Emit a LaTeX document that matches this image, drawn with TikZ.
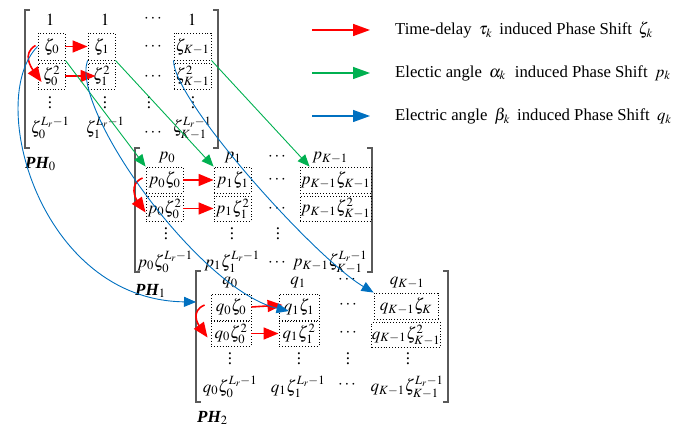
\documentclass[tikz,border=0pt]{standalone}
\usepackage{mathptmx}
\usepackage{fontspec}
\setmainfont{Liberation Serif}
\usetikzlibrary{arrows.meta,calc}
\definecolor{ared}{RGB}{255,0,0}
\definecolor{agreen}{RGB}{0,176,80}
\definecolor{ablue}{RGB}{0,112,192}
\definecolor{brk}{RGB}{90,90,90}
\newcommand{\myvdots}{\vbox{\baselineskip5pt \lineskiplimit0pt \hbox{.}\hbox{.}\hbox{.}}}
\begin{document}
\begin{tikzpicture}[x=1pt,y=-1pt,
  every node/.style={font=\fontsize{17}{20}\selectfont, inner sep=0pt},
  dbox/.style={draw, dotted, line width=0.9pt},
  bracket/.style={draw=brk, line width=1.2pt},
  redarr/.style={draw=ared, line width=1.6pt, -{Triangle[length=15pt,width=12pt]}},
  grnarr/.style={draw=agreen, line width=0.9pt, -{Triangle[length=12pt,width=10pt]}},
  bluarr/.style={draw=ablue, line width=0.9pt, -{Triangle[length=12pt,width=10pt]}},
  leg/.style={anchor=west, font=\fontsize{16.7}{20}\selectfont},
]
\useasboundingbox (0,0) rectangle (675,427);
% ---------- PH0 ----------
\draw[bracket] (30,10) -- (25,10) -- (25,148) -- (30,148);
\draw[bracket] (213,10) -- (218,10) -- (218,148) -- (213,148);
\node (a0) at (50,20) {$1$};
\node (a1) at (105,20) {$1$};
\node (a2) at (153,19) {$\cdots$};
\node (a3) at (192,20) {$1$};
\node[dbox, minimum width=27, minimum height=27] (b00) at (51.5,46.5) {$\zeta_0$};
\node[dbox, minimum width=27, minimum height=27] (b01) at (101.5,46.5) {$\zeta_1$};
\node (b02) at (153,47) {$\cdots$};
\node[dbox, minimum width=37, minimum height=27] (b03) at (192.5,46.5) {$\zeta_{K-1}$};
\node[dbox, minimum width=27, minimum height=26] (b10) at (51.5,76) {$\zeta_0^2$};
\node[dbox, minimum width=27, minimum height=26] (b11) at (101.5,76) {$\zeta_1^2$};
\node (b12) at (153,77) {$\cdots$};
\node[dbox, minimum width=37, minimum height=26] (b13) at (192.5,76) {$\zeta_{K-1}^2$};
\node (e0) at (50,103) {\myvdots};
\node (e1) at (105,103) {\myvdots};
\node (e2) at (149,103) {\myvdots};
\node (e3) at (193,103) {\myvdots};
\node (f0) at (50,128) {$\zeta_0^{L_r-1}$};
\node (f1) at (105,128) {$\zeta_1^{L_r-1}$};
\node (f2) at (153,133) {$\cdots$};
\node (f3) at (192,128) {$\zeta_{K-1}^{L_r-1}$};
\node[anchor=west] (ph0) at (25,164) {{\bfseries\itshape PH}$_0$};
% ---------- PH1 ----------
\draw[bracket] (140,148) -- (135,148) -- (135,272) -- (140,272);
\draw[bracket] (367,148) -- (372,148) -- (372,272) -- (367,272);
\node (p0) at (167,158) {$p_0$};
\node (p1) at (233,158) {$p_1$};
\node (p2) at (277,157) {$\cdots$};
\node (p3) at (330,158) {$p_{K-1}$};
\node[dbox, minimum width=37, minimum height=26] (c00) at (164.5,180) {$p_0\zeta_0$};
\node[dbox, minimum width=37, minimum height=26] (c01) at (232.5,180) {$p_1\zeta_1$};
\node (c02) at (277,180) {$\cdots$};
\node[dbox, minimum width=71, minimum height=26] (c03) at (335.5,180) {$p_{K-1}\zeta_{K-1}$};
\node[dbox, minimum width=37, minimum height=25] (c10) at (164.5,208.5) {$p_0\zeta_0^2$};
\node[dbox, minimum width=37, minimum height=25] (c11) at (232.5,208.5) {$p_1\zeta_1^2$};
\node (c12) at (277,209) {$\cdots$};
\node[dbox, minimum width=71, minimum height=25] (c13) at (335.5,208.5) {$p_{K-1}\zeta_{K-1}^2$};
\node (k0) at (166,234) {\myvdots};
\node (k1) at (232,234) {\myvdots};
\node (k2) at (278,234) {\myvdots};
\node (g0) at (165,262) {$p_0\zeta_0^{L_r-1}$};
\node (g1) at (232,262) {$p_1\zeta_1^{L_r-1}$};
\node (g2) at (277,263) {$\cdots$};
\node (g3) at (330,262) {$p_{K-1}\zeta_{K-1}^{L_r-1}$};
\node[anchor=west] (ph1) at (135,291) {{\bfseries\itshape PH}$_1$};
% ---------- PH2 ----------
\draw[bracket] (201,271) -- (196,271) -- (196,402) -- (201,402);
\draw[bracket] (443,271) -- (448,271) -- (448,402) -- (443,402);
\node (q0) at (230,283) {$q_0$};
\node (q1) at (298,283) {$q_1$};
\node (q2) at (347,280) {$\cdots$};
\node (q3) at (407,283) {$q_{K-1}$};
\node[dbox, minimum width=40, minimum height=26] (d00) at (231,307) {$q_0\zeta_0$};
\node[dbox, minimum width=40, minimum height=26] (d01) at (299,307) {$q_1\zeta_1$};
\node (d02) at (348,305) {$\cdots$};
\node[dbox, minimum width=64, minimum height=26] (d03) at (406,306) {$q_{K-1}\zeta_K$};
\node[dbox, minimum width=40, minimum height=25] (d10) at (231,333.5) {$q_0\zeta_0^2$};
\node[dbox, minimum width=40, minimum height=25] (d11) at (299,333.5) {$q_1\zeta_1^2$};
\node (d12) at (348,333) {$\cdots$};
\node[dbox, minimum width=64, minimum height=25] (d13) at (406,335) {$q_{K-1}\zeta_{K-1}^2$};
\node (m0) at (230,359) {\myvdots};
\node (m1) at (299,359) {\myvdots};
\node (m2) at (348,359) {\myvdots};
\node (m3) at (408,359) {\myvdots};
\node (h0) at (230,387) {$q_0\zeta_0^{L_r-1}$};
\node (h1) at (298,387) {$q_1\zeta_1^{L_r-1}$};
\node (h2) at (347,385) {$\cdots$};
\node (h3) at (407,387) {$q_{K-1}\zeta_{K-1}^{L_r-1}$};
\node[anchor=west] (ph2) at (197,418) {{\bfseries\itshape PH}$_2$};
% ---------- red arrows ----------
\draw[redarr] (b00.east) -- (b01.west);
\draw[redarr] (b10.east) -- ($(b11.west)+(8,0)$);
\draw[redarr] ($(b00.west)+(-2,-1)$) .. controls +(-14,8) and +(-10,-14) .. ($(b10.west)+(4,6)$);
\draw[redarr] (c00.east) -- (c01.west);
\draw[redarr] (c10.east) -- (c11.west);
\draw[redarr] ($(c00.west)+(-3,-2)$) .. controls +(-14,6) and +(-10,-14) .. ($(c10.west)+(0,4)$);
\draw[redarr] (d00.east) -- ($(d01.west)+(4,-2)$);
\draw[redarr] (d10.east) -- (d11.west);
\draw[redarr] ($(d00.west)+(-6,-2)$) .. controls +(-14,6) and +(-10,-14) .. ($(d10.west)+(-3,4)$);
% ---------- green arrows ----------
\draw[grnarr] (b00.south east) -- (c00.north west);
\draw[grnarr] (b01.south east) -- (c01.north west);
\draw[grnarr] (b03.south east) -- ($(c03.north west)+(10,0)$);
% ---------- blue arrows ----------
\coordinate (ph2in) at (196,302);
\draw[bluarr] (b00.west) .. controls (-15,100) and (40,300) .. (ph2in);
\draw[bluarr] (b01.south west) .. controls (70,110) and (200,290) .. ($(d01.west)+(10,4)$);
\draw[bluarr] (b03.south west) .. controls (173,100) and (315,258) .. (d03.north west);
% ---------- legend ----------
\coordinate (l1s) at (312,30); \coordinate (l1e) at (370,30);
\coordinate (l2s) at (312,73); \coordinate (l2e) at (370,73);
\coordinate (l3s) at (312,116); \coordinate (l3e) at (370,116);
\draw[draw=ared, line width=1.6pt, -{Triangle[length=17pt,width=12pt]}] (l1s) -- (l1e);
\draw[draw=agreen, line width=1.3pt, -{Triangle[length=17pt,width=12pt]}] (l2s) -- (l2e);
\draw[draw=ablue, line width=1.3pt, -{Triangle[length=17pt,width=12pt]}] (l3s) -- (l3e);
\node[leg] (t1) at (395,30) {Time-delay\hspace{3pt} $\tau_k$\hspace{3pt} induced Phase Shift\hspace{2pt} $\zeta_k$};
\node[leg] (t2) at (395,73) {Electic angle\hspace{3pt} $\alpha_k$\hspace{5pt} induced Phase Shift\hspace{3pt} $p_k$};
\node[leg] (t3) at (395,116) {Electric angle\hspace{3pt} $\beta_k$\hspace{3pt} induced Phase Shift\hspace{3pt} $q_k$};
\end{tikzpicture}
\end{document}
